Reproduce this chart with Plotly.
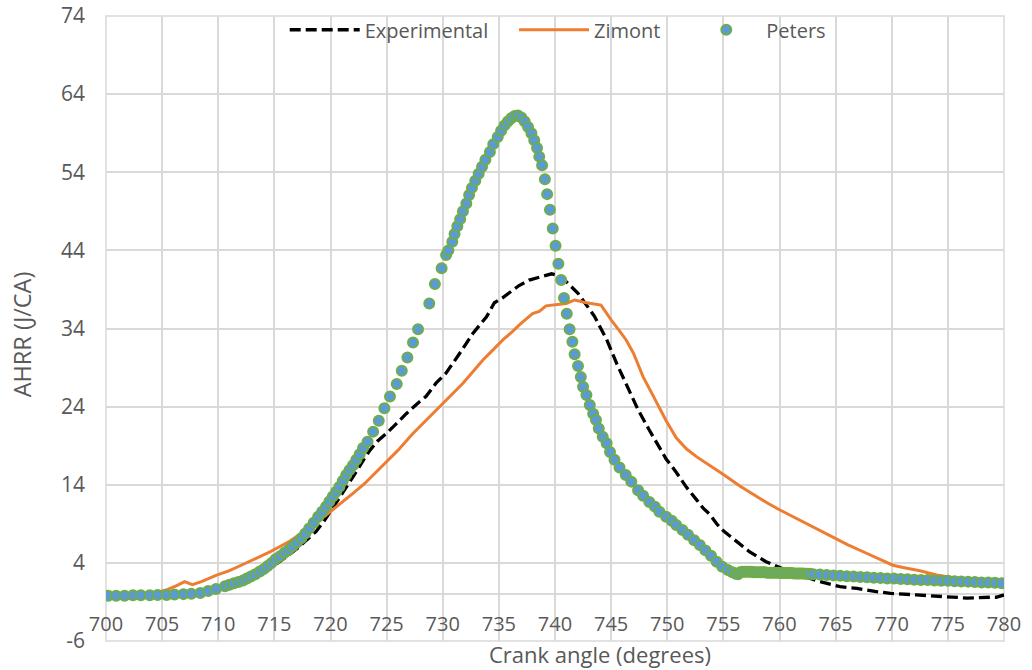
import plotly.graph_objects as go

# Crank angle (degrees) and apparent heat release rate (J/CA)
exp_ca = [700, 702, 704, 706, 708, 709, 710, 711, 712, 713, 714, 715, 716, 717, 718,
          718.7, 719.5, 720.2, 721, 722, 723, 723.5, 724.2, 725, 726, 726.75, 727.9,
          728.5, 729.4, 730.3, 731.5, 732.7, 733.9, 734.6, 735.3, 736, 736.8, 737.7,
          738.6, 739.7, 740.3, 741.0, 742.05, 743.0, 743.5, 744.6, 745.5, 746.5, 747.4,
          748.4, 749.3, 749.9, 750.8, 751.7, 752.6, 753.2, 753.8, 754.4, 755.0, 755.7,
          756.5, 757.35, 758.8, 760.2, 761.85, 763.6, 765.4, 766.9, 768.5, 769.9, 772.2,
          774.9, 776.7, 778.75, 779.3, 780]
exp_hrr = [-0.1, -0.1, 0.0, 0.05, 0.3, 0.55, 0.8, 1.2, 1.6, 2.2, 2.9, 3.7, 4.7, 5.8, 7.1,
           8.0, 9.5, 11.0, 12.8, 15.0, 17.3, 18.4, 19.6, 20.6, 22.0, 23.1, 24.6,
           25.3, 27.0, 28.3, 30.8, 33.4, 35.5, 37.3, 37.9, 38.6, 39.5, 40.2,
           40.6, 41.0, 40.8, 40.0, 38.5, 36.7, 35.6, 32.6, 29.5, 26.4, 23.6,
           21.0, 18.9, 17.3, 15.6, 13.7, 12.1, 11.0, 10.2, 9.0, 8.1, 7.3,
           6.4, 5.4, 4.15, 3.3, 2.45, 1.6, 0.95, 0.74, 0.35, 0.1, -0.1,
           -0.4, -0.5, -0.4, -0.4, -0.1]

zim_ca = [700, 702, 704, 705.5, 706.3, 707.0, 707.7, 708.5, 709.8, 711.0, 711.9, 713.0,
          713.7, 714.6, 715.5, 716.4, 717.2, 718.0, 718.7, 719.5, 720.2, 721.0, 722.0,
          723.0, 724.0, 725.0, 726.0, 727.3, 728.5, 730.0, 731.0, 731.8, 732.7, 733.6,
          734.5, 735.4, 736.2, 736.85, 738.0, 738.6, 739.2, 739.8, 740.4, 741.0, 741.75,
          742.8, 744.1, 745.0, 745.8, 746.35, 747.0, 747.85, 748.7, 749.3, 749.9, 750.8,
          751.7, 752.6, 753.8, 755.0, 756.5, 757.7, 759.0, 760.0, 761.2, 762.4, 763.6,
          764.8, 766.1, 767.8, 769.0, 770.1, 771.0, 772.5, 774.0, 775.5, 777.0, 778.5, 780.0]
zim_hrr = [-0.2, -0.15, 0.0, 0.6, 1.1, 1.6, 1.2, 1.6, 2.4, 3.0, 3.6, 4.3,
           4.8, 5.4, 6.1, 6.8, 7.6, 8.4, 9.1, 10.0, 10.8, 11.7, 12.9,
           14.1, 15.5, 17.0, 18.4, 20.5, 22.2, 24.4, 25.8, 27.0, 28.5, 30.0,
           31.3, 32.6, 33.6, 34.5, 35.9, 36.2, 36.9, 37.0, 37.1, 37.2, 37.65,
           37.3, 37.0, 35.1, 33.6, 32.5, 30.8, 27.8, 25.5, 23.8, 22.2, 20.0,
           18.6, 17.6, 16.5, 15.3, 13.8, 12.7, 11.6, 10.8, 9.9, 9.0, 8.1,
           7.3, 6.3, 5.2, 4.4, 3.7, 3.4, 3.0, 2.45, 2.1, 1.9, 1.75, 1.6]

pet_ca = [700.2, 700.9, 701.65, 702.4, 703.1, 703.9, 704.6, 705.4, 706.1, 706.9, 707.6,
          708.4, 709.1, 709.8, 710.6,
          711.0, 711.4, 711.8, 712.2, 712.55, 712.9, 713.3, 713.7, 714.05, 714.4, 714.75,
          715.1, 715.5, 715.9, 716.25, 716.6, 717.0, 717.4, 717.75, 718.1, 718.5, 718.9,
          719.25, 719.6, 719.9, 720.2, 720.5, 720.8, 721.1, 721.4, 721.7, 722.0, 722.3,
          722.6, 722.9, 723.3,
          723.8, 724.3, 724.8, 725.3, 725.9, 726.35, 726.85, 727.35, 727.8, 728.8, 729.3,
          729.9, 730.3,
          730.5, 730.85, 731.05, 731.3, 731.55, 731.8, 732.1, 732.35, 732.6, 732.9, 733.2,
          733.5, 733.8, 734.2, 734.5, 734.9,
          735.2, 735.5, 735.8, 736.1, 736.4, 736.7, 737.0, 737.3, 737.6, 737.9, 738.15,
          738.4, 738.6, 738.85, 739.1, 739.3, 739.55, 739.8, 740.05, 740.3, 740.55, 740.8,
          741.05, 741.3, 741.55, 741.75, 742.05, 742.3, 742.5, 742.8, 743.1, 743.4, 743.65,
          743.9, 744.25, 744.6, 744.9, 745.3, 745.75, 746.3, 746.8, 747.4, 747.85, 748.4,
          748.9, 749.3, 749.9, 750.4, 750.8, 751.35, 751.85, 752.4, 752.9, 753.4, 753.9,
          754.4, 754.9, 755.4, 755.8, 756.1,
          756.3, 756.5, 756.7, 756.9, 757.1, 757.3, 757.5, 757.7, 757.9, 758.1, 758.3,
          758.5, 758.7, 758.9, 759.1, 759.3, 759.5, 759.7, 759.9, 760.1, 760.3, 760.5,
          760.7, 760.9, 761.1, 761.3, 761.5, 761.7, 761.9, 762.1, 762.3, 762.5, 762.7,
          763.0, 763.6, 764.2, 764.8, 765.4, 766.0, 766.6, 767.2, 767.8, 768.4, 769.0,
          769.6, 770.2, 770.8, 771.4, 772.0, 772.6, 773.2, 773.8, 774.4, 775.0, 775.6,
          776.2, 776.8, 777.4, 778.0, 778.6, 779.2, 779.8]
pet_hrr = [-0.2, -0.2, -0.2, -0.15, -0.15, -0.15, -0.1, -0.1, -0.05, 0.0, 0.05,
           0.15, 0.4, 0.65, 1.0,
           1.2, 1.4, 1.55, 1.75, 2.0, 2.25, 2.55, 2.9, 3.2, 3.6, 4.0,
           4.45, 4.85, 5.3, 5.65, 6.1, 6.6, 7.15, 7.75, 8.4, 9.15, 9.9,
           10.55, 11.2, 11.85, 12.5, 13.1, 13.75, 14.5, 15.25, 15.9, 16.5, 17.2,
           17.9, 18.7, 19.5,
           20.8, 22.2, 23.8, 25.3, 26.9, 28.6, 30.3, 32.2, 33.9, 37.2, 39.7,
           41.7, 43.4,
           44.0, 45.1, 46.1, 47.1, 48.0, 49.0, 50.0, 51.1, 52.0, 52.9, 53.8,
           54.7, 55.6, 56.6, 57.6, 58.5,
           59.3, 60.0, 60.5, 60.9, 61.2, 61.25, 61.0, 60.5, 59.8, 59.0, 58.1,
           57.1, 56.0, 54.9, 53.1, 51.2, 49.2, 46.8, 44.6, 42.3, 40.2, 37.9,
           35.9, 33.9, 32.3, 30.7, 29.2, 27.8, 26.55, 25.5, 24.2, 23.1, 22.3,
           21.2, 20.15, 19.3, 18.2, 17.2, 16.2, 15.25, 14.4, 13.3, 12.6, 11.8,
           11.2, 10.55, 9.9, 9.4, 8.85, 8.2, 7.6, 6.9, 6.3, 5.6, 4.9,
           4.15, 3.5, 3.1, 2.8, 2.6,
           2.55, 2.8, 2.85, 2.85, 2.85, 2.85, 2.85, 2.8, 2.8, 2.8, 2.8,
           2.8, 2.8, 2.75, 2.75, 2.75, 2.75, 2.75, 2.75, 2.7, 2.7, 2.7,
           2.7, 2.7, 2.7, 2.65, 2.65, 2.65, 2.65, 2.65, 2.6, 2.6, 2.6,
           2.55, 2.5, 2.45, 2.4, 2.35, 2.3, 2.25, 2.2, 2.15, 2.1, 2.05,
           2.0, 2.0, 1.95, 1.9, 1.85, 1.8, 1.8, 1.75, 1.7, 1.7, 1.65,
           1.62, 1.6, 1.55, 1.5, 1.48, 1.45, 1.4]

x_ticks = list(range(700, 781, 5))
y_ticks = list(range(-6, 75, 10))

FONT = "Open Sans, Lato, DejaVu Sans, sans-serif"
GREY_TEXT = "#595959"
GRID = "#D9D9D9"
PAD = "&nbsp;" * 4  # extra spacing between legend entries

fig = go.Figure()
fig.add_trace(go.Scatter(
    x=exp_ca, y=exp_hrr, mode="lines", name="Experimental" + PAD,
    line=dict(color="#000000", width=3.3, dash="11px,5px"),
))
fig.add_trace(go.Scatter(
    x=zim_ca, y=zim_hrr, mode="lines", name="Zimont" + PAD,
    line=dict(color="#ED7D31", width=3),
))
fig.add_trace(go.Scatter(
    x=pet_ca, y=pet_hrr, mode="markers", name="Peters",
    marker=dict(color="#5B9BD5", size=10, line=dict(color="#70AD47", width=2)),
))

fig.update_layout(
    width=1032, height=670,
    margin=dict(l=106, r=28, t=16, b=29, autoexpand=False),
    paper_bgcolor="white", plot_bgcolor="white",
    font=dict(family=FONT, color=GREY_TEXT, size=20),
    showlegend=True,
    legend=dict(
        orientation="h", x=0.199, xanchor="left", y=0.978, yanchor="middle",
        bgcolor="rgba(0,0,0,0)", font=dict(size=20, color=GREY_TEXT),
        itemwidth=70, traceorder="normal",
    ),
    xaxis=dict(
        range=[700, 780], tickvals=x_ticks, ticktext=[str(v) for v in x_ticks],
        showgrid=True, gridcolor=GRID, gridwidth=1.5, zeroline=False,
        showline=False, ticks="", anchor="free", position=0.05, automargin=False,
        tickfont=dict(size=20, color=GREY_TEXT),
    ),
    yaxis=dict(
        range=[-6, 74], tickvals=y_ticks, ticktext=[str(v) for v in y_ticks],
        showgrid=True, gridcolor=GRID, gridwidth=1.5,
        zeroline=True, zerolinecolor=GRID, zerolinewidth=1.5,
        showline=False, ticks="", ticklabelstandoff=20, automargin=False,
        tickfont=dict(size=21, color=GREY_TEXT),
    ),
    shapes=[dict(type="rect", xref="paper", yref="paper", x0=0, x1=1, y0=0, y1=1,
                 line=dict(color=GRID, width=1.5), layer="below")],
    annotations=[
        dict(text="Crank angle (degrees)", xref="paper", yref="paper",
             x=0.55, y=-0.021, xanchor="center", yanchor="middle", showarrow=False,
             font=dict(size=22, color=GREY_TEXT)),
        dict(text="AHRR (J/CA)", xref="paper", yref="paper", textangle=-90,
             x=-0.094, y=0.49, xanchor="center", yanchor="middle", showarrow=False,
             font=dict(size=23.5, color=GREY_TEXT)),
    ],
)

fig.write_html("out.html")
